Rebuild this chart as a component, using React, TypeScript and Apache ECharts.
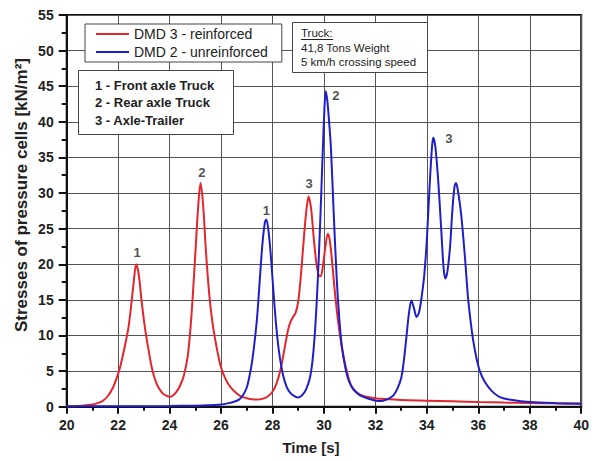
import React, { useEffect, useRef } from "react";
import * as echarts from "echarts";

const FONT = "'Liberation Sans', Arial, sans-serif";

// DMD 3 - reinforced (red)
const redX = [20, 20.5, 21.0, 21.2, 21.4, 21.6, 21.8, 22.0, 22.1, 22.2, 22.3, 22.4, 22.5, 22.6, 22.7, 22.8, 22.9, 23.0, 23.1, 23.2, 23.3, 23.4, 23.5, 23.6, 23.75, 23.9, 24.0, 24.1, 24.25, 24.4, 24.55, 24.7, 24.8, 24.9, 25.0, 25.1, 25.2, 25.3, 25.4, 25.5, 25.6, 25.7, 25.83, 26.0, 26.2, 26.4, 26.6, 26.8, 27.0, 27.2, 27.4, 27.6, 27.8, 28.0, 28.15, 28.3, 28.45, 28.6, 28.7, 28.8, 28.9, 29.0, 29.1, 29.2, 29.3, 29.4, 29.5, 29.6, 29.7, 29.8, 29.87, 29.95, 30.05, 30.15, 30.22, 30.3, 30.4, 30.5, 30.6, 30.7, 30.8, 30.9, 31.0, 31.1, 31.25, 31.4, 31.6, 31.8, 32.2, 33, 34, 35, 36, 37, 38, 39, 40];
const redY = [0.05, 0.1, 0.3, 0.5, 0.8, 1.5, 2.7, 4.6, 5.9, 7.5, 9.2, 11.1, 14, 17.3, 20.0, 18.6, 15.2, 12.2, 9.7, 7.6, 5.6, 4.2, 3.2, 2.5, 1.8, 1.5, 1.4, 1.5, 2.0, 2.9, 4.3, 7.0, 10.5, 15.5, 21.5, 27.5, 31.4, 28.5, 22.5, 17.5, 13.7, 11, 8.3, 5.5, 3.7, 2.6, 1.9, 1.4, 1.2, 1.05, 1.0, 1.1, 1.4, 2.1, 3.2, 5.0, 7.8, 10.7, 11.9, 12.6, 13.2, 14.8, 18.3, 22.8, 27, 29.5, 27.8, 23.8, 20.3, 18.4, 18.3, 19.5, 22.3, 24.3, 23.5, 21, 17, 13.5, 10.6, 8.3, 6.4, 4.8, 3.5, 2.7, 2.1, 1.7, 1.45, 1.3, 1.1, 0.95, 0.85, 0.75, 0.65, 0.58, 0.52, 0.48, 0.45];

// DMD 2 - unreinforced (blue)
const blueX = [20, 22, 24, 25, 25.5, 26, 26.3, 26.5, 26.7, 26.85, 27.0, 27.1, 27.2, 27.3, 27.4, 27.5, 27.6, 27.7, 27.76, 27.85, 27.95, 28.05, 28.15, 28.25, 28.4, 28.55, 28.7, 28.85, 29.0, 29.15, 29.3, 29.45, 29.55, 29.65, 29.75, 29.85, 29.95, 30.02, 30.07, 30.13, 30.2, 30.27, 30.38, 30.5, 30.6, 30.7, 30.83, 30.96, 31.15, 31.4, 31.6, 31.85, 32.1, 32.3, 32.5, 32.7, 32.85, 33.0, 33.1, 33.2, 33.3, 33.4, 33.5, 33.6, 33.7, 33.8, 33.9, 34.0, 34.1, 34.2, 34.25, 34.33, 34.44, 34.56, 34.65, 34.72, 34.8, 34.9, 35.0, 35.08, 35.13, 35.2, 35.33, 35.48, 35.6, 35.7, 35.8, 35.93, 36.06, 36.25, 36.5, 36.76, 37.0, 37.4, 38, 39, 40];
const blueY = [0.05, 0.05, 0.1, 0.15, 0.2, 0.3, 0.5, 0.7, 1.0, 1.6, 2.7, 4.2, 6.2, 9, 12.5, 17.5, 22.5, 25.8, 26.3, 24.5, 20.5, 15.5, 11.1, 7.8, 4.6, 2.8, 1.9, 1.5, 1.3, 1.6, 2.4, 4.0, 6.3, 10.5, 17, 25.5, 35.5, 42, 44.3, 43, 40, 36.4, 27.1, 17.7, 12.2, 8.3, 5.5, 3.7, 2.4, 1.6, 1.3, 1.0, 0.8, 0.85, 1.1, 1.6, 2.5, 4.0, 6.3, 9.6, 13, 14.9, 13.8, 12.6, 13.3, 15.5, 18.5, 23.5, 30.5, 36.5, 37.8, 36.5, 31.8, 24.8, 19.5, 18.0, 19, 22.4, 28, 31, 31.4, 30.5, 27.1, 21, 15.3, 12, 9.3, 6.8, 5, 3.5, 2.3, 1.5, 1.15, 0.9, 0.65, 0.5, 0.42];

// Peak annotations
const peakLabels = ["1", "2", "1", "3", "2", "3"];
const peakX = [22.74, 25.25, 27.76, 29.42, 30.46, 34.86];
const peakY = [21.7, 32.9, 27.6, 31.4, 43.7, 37.7];

const axleNotes = ["1 - Front axle Truck", "2 - Rear axle Truck", "3 - Axle-Trailer"];
const truckNotes = ["Truck:", "41,8 Tons Weight", "5 km/h crossing speed"];
const xTitle = "Time [s]";
const yTitle = "Stresses of pressure cells [kN/m²]";

export default function App() {
  const ref = useRef<HTMLDivElement>(null);
  useEffect(() => {
    if (!ref.current) return;
    document.body.style.margin = "0";
    document.body.style.overflow = "hidden";
    const chart = echarts.init(ref.current, undefined, { renderer: "svg" });
    const red = redX.map((x, i) => [x, redY[i]]);
    const blue = blueX.map((x, i) => [x, blueY[i]]);
    const labels = peakX.map((x, i) => [x, peakY[i], peakLabels[i]]);
    const axisLabelStyle = { fontFamily: FONT, fontSize: 14, fontWeight: "bold", color: "#222" };
    const Z = 100;
    chart.setOption({
      animation: false,
      backgroundColor: "#fff",
      grid: { left: 66.7, right: 7, top: 15, bottom: 53.3, show: true, borderColor: "#111", borderWidth: 2, backgroundColor: "transparent" },
      xAxis: {
        type: "value", min: 20, max: 40, interval: 2,
        axisLine: { show: true, onZero: false, lineStyle: { color: "#111", width: 2 } },
        axisTick: { show: true, length: 7, lineStyle: { color: "#111", width: 2 } },
        minorTick: { show: true, splitNumber: 2, length: 4, lineStyle: { color: "#111", width: 2 } },
        axisLabel: { ...axisLabelStyle, margin: 11 },
        splitLine: { show: true, lineStyle: { color: "#555", width: 1 } },
      },
      yAxis: {
        type: "value", min: 0, max: 55, interval: 5,
        axisLine: { show: true, onZero: false, lineStyle: { color: "#111", width: 2 } },
        axisTick: { show: true, length: 8, lineStyle: { color: "#111", width: 2 } },
        minorTick: { show: true, splitNumber: 2, length: 5, lineStyle: { color: "#111", width: 2 } },
        axisLabel: { ...axisLabelStyle, margin: 13 },
        splitLine: { show: true, lineStyle: { color: "#555", width: 1 } },
      },
      legend: {
        data: ["DMD 3 - reinforced", "DMD 2 - unreinforced"],
        orient: "vertical", left: 85, top: 24,
        icon: "rect",
        itemWidth: 33, itemHeight: 2, itemGap: 4,
        padding: [3, 14, 3, 11],
        borderColor: "#444", borderWidth: 1, backgroundColor: "#fff",
        textStyle: { fontFamily: FONT, fontSize: 14, color: "#222", lineHeight: 14 },
      },
      series: [
        {
          name: "DMD 3 - reinforced", type: "line", data: red, symbol: "none",
          smooth: 0.3,
          lineStyle: { color: "#e3262d", width: 2 }, itemStyle: { color: "#e3262d" }, z: 3,
        },
        {
          name: "DMD 2 - unreinforced", type: "line", data: blue, symbol: "none",
          smooth: 0.3,
          lineStyle: { color: "#1f1fc8", width: 2 }, itemStyle: { color: "#1f1fc8" }, z: 3,
        },
        {
          name: "peaks", type: "scatter", data: labels, symbolSize: 1,
          itemStyle: { color: "rgba(0,0,0,0)" }, silent: true,
          label: {
            show: true, position: "inside",
            formatter: (p: any) => p.data[2],
            fontFamily: FONT, fontSize: 13, fontWeight: "bold", color: "#222",
          },
          z: 4,
        },
      ],
      graphic: [
        {
          type: "text", z: Z, x: 311, y: 447,
          style: { text: xTitle, fontFamily: FONT, fontSize: 15, fontWeight: "bold", fill: "#222", textAlign: "center", textVerticalAlign: "middle" },
        },
        {
          type: "text", z: Z, x: 21, y: 195, rotation: Math.PI / 2,
          style: { text: yTitle, fontFamily: FONT, fontSize: 17, fontWeight: "bold", fill: "#222", textAlign: "center", textVerticalAlign: "middle" },
        },
        { type: "rect", z: Z, shape: { x: 78.5, y: 70.5, width: 155, height: 64 }, style: { fill: "#fff", stroke: "#444", lineWidth: 1 } },
        ...axleNotes.map((t, i) => ({
          type: "text", z: Z + 1, x: 95, y: 85 + i * 17.5,
          style: { text: t, fontFamily: FONT, fontSize: 13, fontWeight: "bold", fill: "#222", textVerticalAlign: "middle" },
        })),
        { type: "rect", z: Z, shape: { x: 292.5, y: 22.5, width: 135, height: 50 }, style: { fill: "#fff", stroke: "#444", lineWidth: 1 } },
        ...truckNotes.map((t, i) => ({
          type: "text", z: Z + 1, x: 301, y: 33 + i * 14.5,
          style: { text: t, fontFamily: FONT, fontSize: 11.5, fill: "#222", textVerticalAlign: "middle" },
        })),
        { type: "line", z: Z + 1, shape: { x1: 301, y1: 39.5, x2: 333, y2: 39.5 }, style: { stroke: "#222", lineWidth: 1 } },
      ],
    });
    return () => chart.dispose();
  }, []);
  return <div ref={ref} style={{ position: "absolute", left: 0, top: 0, width: 592, height: 460 }} />;
}
